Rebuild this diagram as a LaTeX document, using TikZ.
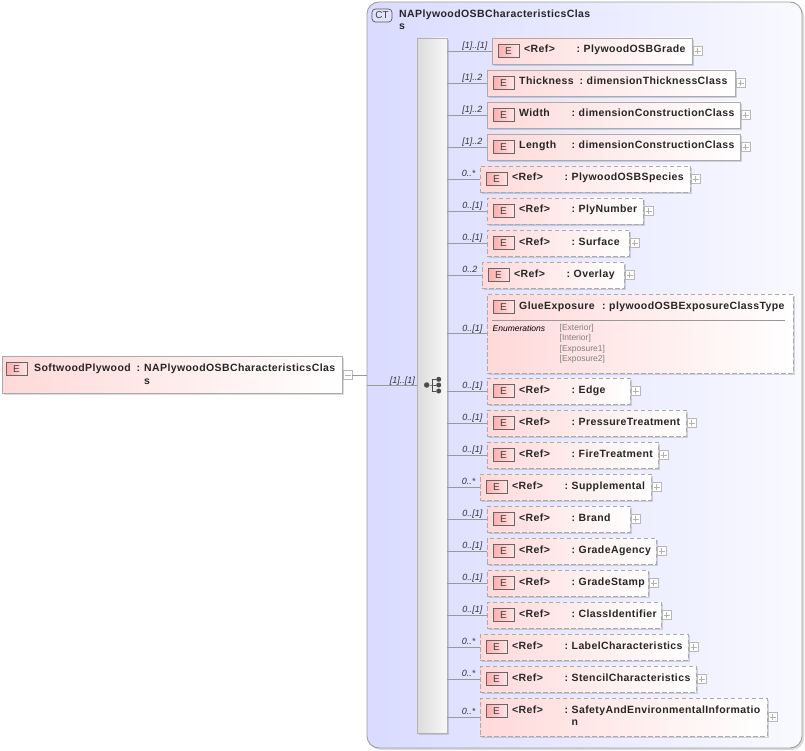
\documentclass[tikz,border=0pt]{standalone}
\usepackage{fontspec}
\setmainfont{Liberation Sans}
\newfontfamily\bfl[LetterSpace=3.8,BoldFont={* Bold}]{Liberation Sans}
\usetikzlibrary{shadings,calc}
\definecolor{ctleft}{HTML}{D9DBFF}
\definecolor{ctright}{HTML}{F9F9FF}
\definecolor{elleft}{HTML}{FFD9D9}
\definecolor{edgegray}{HTML}{ABABAB}
\tikzset{
 x=1pt,y=-1pt,
 softshade/.style={fill=black,fill opacity=0.14},
 elbox/.style={draw=edgegray,line width=0.9pt,left color=elleft,right color=white,minimum height=#1,inner sep=0pt,outer sep=0pt,rectangle},
 opt/.style={dash pattern=on 4.5pt off 2.5pt},
 req/.style={},
 etag/.style={draw=black!60,line width=0.8pt,left color=red!32!white,right color=red!10!white,minimum width=21pt,minimum height=13pt,inner sep=0pt,font=\fontsize{10}{10}\selectfont\color{black!75}},
 lab/.style={inner sep=0pt,anchor=base west,font=\bfl\bfseries\fontsize{10.5}{12}\selectfont,text=black!85},
 mult/.style={inner sep=0pt,anchor=base east,font=\itshape\fontsize{9}{10}\selectfont,text=black!80},
 wire/.style={draw=black!40,line width=0.8pt},
 pm/.style={draw=black!28,line width=0.6pt,fill=white,minimum size=9pt,inner sep=0pt,outer sep=0pt,rectangle},
 dot/.style={circle,fill=black!70,inner sep=0pt,minimum size=5pt},
 enumv/.style={inner sep=0pt,anchor=base west,font=\fontsize{8.5}{10}\selectfont,text=black!50},
}
\newcommand{\pmark}[2]{\draw[black!30,line width=0.5pt] ($(#1)+(-3,0)$)--($(#1)+(3,0)$); \ifnum#2=1 \draw[black!30,line width=0.5pt] ($(#1)+(0,-3)$)--($(#1)+(0,3)$);\fi}
\begin{document}
\begin{tikzpicture}
\useasboundingbox (0,0) rectangle (805,751);
% complex type frame
\fill[softshade,rounded corners=12pt] (369,4) rectangle (804,750);
\node[draw=black!38,line width=0.9pt,left color=ctleft,right color=ctright,rounded corners=12pt,minimum width=435pt,minimum height=746pt,inner sep=0pt,outer sep=0pt,rectangle] (ct) at (584.5,375) {};
\node[draw=black!65,line width=0.7pt,fill=ctleft!80!white,rounded corners=3.5pt,minimum width=20pt,minimum height=13pt,inner sep=0pt,font=\fontsize{10}{10}\selectfont\color{black!75}] (cttag) at (382,15.5) {CT};
\node[lab] (cttitle) at (399,18) {NAPlywoodOSBCharacteristicsClas};
\node[lab] (cttitle2) at (399,30) {s};
% sequence bar
\fill[softshade] (419,40) rectangle (449,735);
\node[draw=black!30,line width=0.9pt,left color=black!14,right color=white!97!black,minimum width=30pt,minimum height=695pt,inner sep=0pt,outer sep=0pt,rectangle] (bar) at (432,385.5) {};
\node[dot,minimum size=5.5pt] (d0) at (426.7,385) {};
\node[dot] (d1) at (438.7,379.3) {};
\node[dot] (d2) at (438.7,385) {};
\node[dot] (d3) at (438.7,391) {};
\draw[black!70,line width=1pt] (d0)--(432.5,385)--(d2) (d1)--(432.5,379.3)--(432.5,391)--(d3);
% root element
\fill[softshade] (4,358) rectangle (344,395);
\node[elbox=37pt,minimum width=340pt] (root) at (172,374.5) {};
\node[etag] (roottag) at (16.5,369) {E};
\node[lab] (rootn) at (34,371) {SoftwoodPlywood};
\node[lab] (rootc) at (136.5,371) {:};
\node[lab] (roott) at (144,371) {NAPlywoodOSBCharacteristicsClas};
\node[lab] (roott2) at (144,384) {s};
\node[pm] (rootpm) at (347.5,375) {};
\pmark{rootpm}{0}
\draw[wire] (rootpm.east)--(ct.west |- rootpm.east);
\draw[wire] (ct.west |- 0,385)--(bar.west |- 0,385);
\node[mult] (rootm) at (415,383) {[1]..[1]};
% children
\foreach \id/\xa/\ya/\xb/\yb/\st/\nm/\tp/\mu/\lx in {
 a/492/38/692/64/req/{<Ref>}/PlywoodOSBGrade/{[1]..[1]}/52.5,
 b/487/70/735/96/req/Thickness/dimensionThicknessClass/{[1]..2}/60.5,
 c/487/102/740/128/req/Width/dimensionConstructionClass/{[1]..2}/52.5,
 d/487/134/740/160/req/Length/dimensionConstructionClass/{[1]..2}/52.5,
 e/480/166/690/192/opt/{<Ref>}/PlywoodOSBSpecies/{0..*}/52.5,
 f/487/198/643/224/opt/{<Ref>}/PlyNumber/{0..[1]}/52.5,
 g/487/230/629/256/opt/{<Ref>}/Surface/{0..[1]}/52.5,
 h/482/262/624/288/opt/{<Ref>}/Overlay/{0..2}/52.5,
 i/487/294/793/373/opt/GlueExposure/plywoodOSBExposureClassType/{0..[1]}/83,
 j/487/378/630/404/opt/{<Ref>}/Edge/{0..[1]}/52.5,
 k/487/410/686/436/opt/{<Ref>}/PressureTreatment/{0..[1]}/52.5,
 l/487/442/658/468/opt/{<Ref>}/FireTreatment/{0..[1]}/52.5,
 m/480/474/651/500/opt/{<Ref>}/Supplemental/{0..*}/52.5,
 n/487/506/630/532/opt/{<Ref>}/Brand/{0..[1]}/52.5,
 o/487/538/656/564/opt/{<Ref>}/GradeAgency/{0..[1]}/52.5,
 p/487/570/648/596/opt/{<Ref>}/GradeStamp/{0..[1]}/52.5,
 q/487/602/661/628/opt/{<Ref>}/ClassIdentifier/{0..[1]}/52.5,
 r/480/634/688/660/opt/{<Ref>}/LabelCharacteristics/{0..*}/52.5,
 s/480/666/696/692/opt/{<Ref>}/StencilCharacteristics/{0..*}/52.5,
 t/480/698/767/736/opt/{<Ref>}/SafetyAndEnvironmentalInformatio/{0..*}/52.5%
}{
 \pgfmathsetmacro{\ww}{\xb-\xa}
 \pgfmathsetmacro{\hh}{\yb-\ya}
 \fill[softshade] (\xa+2,\ya+2) rectangle (\xb+2,\yb+2);
 \node[elbox=\hh pt,minimum width=\ww pt,\st] (\id) at ({(\xa+\xb)/2},{(\ya+\yb)/2}) {};
 \node[etag] (\id tag) at (\xa+16.5,\ya+13) {E};
 \node[lab] (\id n) at (\xa+32,\ya+15) {\nm};
 \node[lab] (\id c) at (\xa+32+\lx,\ya+15) {:};
 \node[lab] (\id t) at (\xa+39+\lx,\ya+15) {\tp};
 \coordinate (\id w) at (\xa,{(\ya+\yb)/2});
 \draw[wire] (bar.east |- \id w)--(\id w);
 \node[mult] (\id m) at (\xa-4.5,{(\ya+\yb)/2-2.5}) {\mu};
 \if\id i\else
  \node[pm] (\id pm) at (\xb+5.5,{(\ya+\yb)/2}) {};
  \pmark{\id pm}{1}
 \fi
}
\node[lab] (tt2) at (571.5,725.5) {n};
% enumeration
\draw[black!40,line width=0.8pt] (492,320.5)--(785,320.5);
\node[inner sep=0pt,anchor=base west,font=\itshape\fontsize{8.5}{10}\selectfont] (enl) at (492.5,331) {Enumerations};
\node[enumv] (en1) at (559.5,330) {[Exterior]};
\node[enumv] (en2) at (559.5,340) {[Interior]};
\node[enumv] (en3) at (559.5,351) {[Exposure1]};
\node[enumv] (en4) at (559.5,361.5) {[Exposure2]};
\end{tikzpicture}
\end{document}
